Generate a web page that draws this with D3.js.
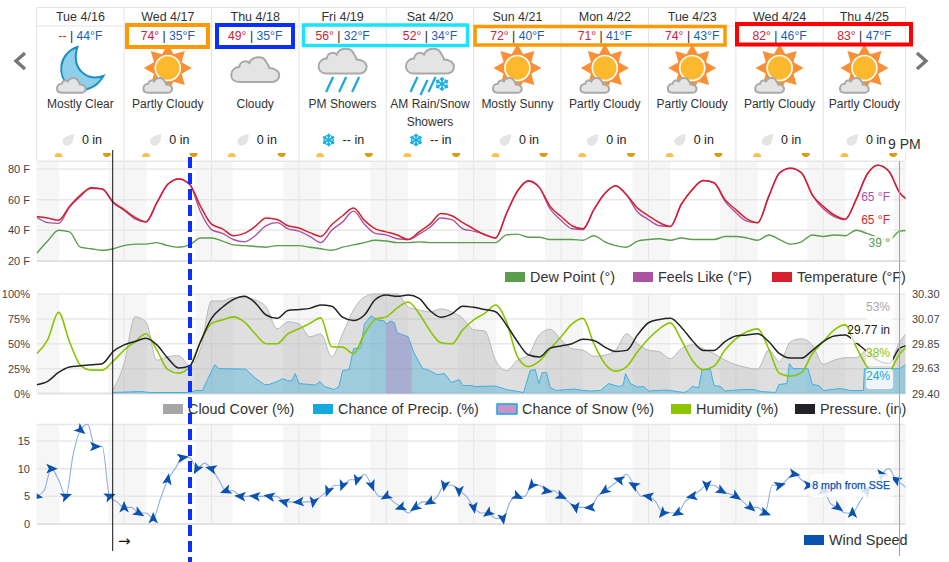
<!DOCTYPE html>
<html><head><meta charset="utf-8">
<script src="https://cdnjs.cloudflare.com/ajax/libs/d3/7.8.5/d3.min.js"></script>
<style>html,body{margin:0;padding:0;background:#fff}svg{display:block;font-family:"Liberation Sans",Arial,sans-serif}</style>
</head><body><svg id="c" width="949" height="562"></svg>
<script>
const days=["Tue 4/16","Wed 4/17","Thu 4/18","Fri 4/19","Sat 4/20","Sun 4/21","Mon 4/22","Tue 4/23","Wed 4/24","Thu 4/25"];
const highs=["--","74°","49°","56°","52°","72°","71°","74°","82°","83°"];
const lows=["44°F","35°F","35°F","32°F","34°F","40°F","41°F","43°F","46°F","47°F"];
const conditions=[["Mostly Clear"],["Partly Cloudy"],["Cloudy"],["PM Showers"],["AM Rain/Snow","Showers"],["Mostly Sunny"],["Partly Cloudy"],["Partly Cloudy"],["Partly Cloudy"],["Partly Cloudy"]];
const iconTypes=["moon","sun","cloud","rain","mix","sun","sun","sun","sun","sun"];
const precipAmounts=["0 in","0 in","0 in","-- in","-- in","0 in","0 in","0 in","0 in","0 in"];
const nightStart=[-5,19.7,43.5,67.7,91.6,115.6,139.6,163.6,187.6,211.6,235.6];
const nightEnd=[6.2,30.2,53.8,78,102,126.2,150,174,198,222,240];

const temperature=[49,48,46.5,55.6,63,67.5,67,58.5,
53.5,48.5,45.5,58,70,73.5,70,55.6,
44,41,36.5,38,42.5,48,47,43,
41.5,38.5,36,43.6,49.5,54.5,46.5,41,
39,37,34,39,44,51,49.5,45,
41,37,35,51,65.5,72,68,55.6,
49,43,41,53.5,64,69,63,54.5,
49.5,45,42.5,57,66.5,72.5,71,60,
53.5,47.5,45,62,77.5,80.5,77.5,63,
55.6,50,47.3,60,76.4,82.5,78.5,64.4,59];
const feelsLike=[48.5,45,44.5,55,62,68,67,58,
53,47.5,45.5,58,70,73.5,70,52,
40.5,38,34,32.5,36.5,43,45,41,
39.5,36,32,40,45.5,52.5,44,38,
37,34.5,34,37.5,42,48,47,41,
39.5,37.5,35,51,65.5,72.5,68,54,
46.5,41,40.5,53.5,64,69,63,52,
47,43,42.5,57,66.5,72.5,71,59,
51.5,46,45,62,77.5,80.5,77.5,63,
54,49,47,60,76.4,82.5,78.5,64.4,59];
const dewPoint=[25,33,40,39,29,28,27,28,
30,31,31,32,30,29,30.5,35,
35,33,30.5,30,29.5,29,30,30,
30,29,28,27,29,30.5,32,33.5,
33,32,32,32.5,32,32,32,32,
32,32,32,37,37.5,35.5,35.5,34,
34,34,33.5,36.5,32.5,30,29,33,
34,34.5,33.5,35,34,34,34,36,
36,35,33.5,37,34,31,32.5,37,
36,37,36.5,40,38,35.5,33.5,39.5,40];
const humidity=[40,54,81.5,52,28.5,23.5,23.5,32.5,
43.6,52,60,43.6,24,20.5,27,52,
70.5,74,77,72,60,50,50,60,
65,70.5,76,47,46.6,40,60,74.5,
77,86,92,80.5,63,51,50,64,
74,80.5,89,72,37,27,32.5,45,
57,70,75.5,50,30,22.5,27,42,
55,65,71,54,33.5,24,27.5,43.6,
55,62,65,45,20,17.5,21,40,
52,64,69,47,27,17,21,40,49];
const pressure=[29.48,29.51,29.59,29.64,29.65,29.66,29.67,29.78,
29.84,29.87,29.90,29.84,29.72,29.63,29.65,29.87,
30.08,30.18,30.25,30.28,30.22,30.11,30.08,30.15,
30.16,30.17,30.20,30.19,30.09,30.06,30.11,30.25,
30.29,30.28,30.29,30.26,30.15,30.09,30.12,30.19,
30.18,30.16,30.14,30.02,29.87,29.75,29.73,29.81,
29.83,29.85,29.89,29.88,29.82,29.78,29.79,29.93,
30.04,30.07,30.08,30.00,29.88,29.79,29.79,29.87,
29.92,29.93,29.94,29.87,29.76,29.72,29.72,29.79,
29.87,29.92,29.93,29.86,29.78,29.70,29.67,29.81,29.84];
const cloudCover=[null,null,null,null,null,null,null,4,
30,77,72,33.5,37,38,28.5,45,
93,93,96.6,96.6,94,87,65,72,
70,57,60,37,60,84,97,100,
100,100,87,84,82,85,82,75.5,
64,63,33.5,23,33.5,38.5,59,64.5,
54,45,43.6,37.5,38.5,43.6,60,50,
43.6,42,35,45,49,45,40,33.5,
29,26,24.5,43.6,32,52,55,48.6,
29.5,33.5,36,36,43.6,33.5,30,52,64];
const precipHours=[21,28.6,31,42,43.7,45.5,46.9,48.9,50,57.4,60.2,62.5,63.8,66.6,67.5,68.9,70,71,72,76.6,77.8,79,81.7,83,84,85.8,87,89,90,91.8,93.6,95.4,96,97.2,98.2,99,102,103.7,106,107.3,110,112,113.9,116,117,119,120.6,
126,129,133.7,135.5,136.9,137.9,138.8,140,141,142.7,147.5,150,152,154.8,157,159.8,161,161.7,163,165,166.7,168,173,177.7,179,180,181.8,182.7,185,186,187.8,188.9,194,196.9,198.8,202.9,203.8,206,206.7,207.7,211.8,213,214.8,216,220.7,223.5,227,227.3,237,239,240];
const precipChance=[1,2,1,1,3,3,14,29,25,24.5,15,9,9,13,15,13,12.5,20,10,8.5,12,7,4,7,23,24,45,46,70,78,74,73,70,73,71,61,57,40,25,24,19,20,11,14,8,8,7,
7.5,4,1,23,24,10,21,21,6,3,4.5,3,2.5,3,10,7,8,20,10,6.5,7,2.5,3.5,1,3,7,6,24,24,8,7,2.5,4,4,2,1,9,10,30,25,25,9,8,3,5,3,3,25,25,30,30];
const snowHours=[96,97.2,98.2,99,102,103];
const snowChance=[70,73,71,61,57,47];
const windSpeed=[5,6,10,8,5,12.5,17,18,14,14,
5,4,3,3,2,2,1,4.6,8,10,
12,12,10,11,10,8,6,6,5,5,
5,5,5,5,4,4,4,4,4,5,
6,7,7,8,8,9,7,5,5,4,
3,2,3,4,4,5,7,7,6,5,
3,2,2,1,1,4,5,5,7,7,
6,6,5,4,3,3,3,5,6,7,
8,9,7,5,5,4,2,2,2,4,
5,6,7,7,6,5.5,5,4,3,3,
2,7,7,8,9,8,7,6,6,3.7,
3,2,2,4,6,7.6,9,10,8,7,5.5];
const windArrowDir=[100,90,70,130,90,70,0,120,0,10,80,210,285,250,275,275,280,285,265,190,200,200,195,160,240,250,235,240,190,180,170,235,170,115,220,100,115,170,265,235,285,300,280,220,240,260,180,120,125,130,110,75,100,90,100,125,0,40,320,300];

const tempTicks=[20,40,60,80];
const pctTicks=[0,25,50,75,100];
const pressTicks=[29.40,29.63,29.85,30.07,30.30];
const windTicks=[0,5,10,15];
const legend1=[["Dew Point (°)","#5a9e4b"],["Feels Like (°F)","#ab52a3"],["Temperature (°F)","#d61f2c"]];
const legend2=[["Cloud Cover (%)","#a6a6a6"],["Chance of Precip. (%)","#16a9de"],["Chance of Snow (%)","#c893c6"],["Humidity (%)","#8bc400"],["Pressure. (in)","#222327"]];
const legend3=[["Wind Speed","#0a52b0"]];

const svg=d3.select("#c");
const hours3=d3.range(0,241,3), hours2=d3.range(0,241,2), hours4=d3.range(0,237,4);
const x=d3.scaleLinear().domain([0,240]).range([36.7,910.7]);
const LEFT=36.7,RIGHT=905.5;
const yT=d3.scaleLinear().domain([20,85]).range([261,161.3]);
const yP=d3.scaleLinear().domain([0,100]).range([393.5,294]);
const yIn=d3.scaleLinear().domain([29.40,30.30]).range([393.5,294]);
const yW=d3.scaleLinear().domain([0,18]).range([524,424.4]);

svg.append("defs").append("clipPath").attr("id","plot").append("rect")
  .attr("x",LEFT).attr("y",0).attr("width",RIGHT-LEFT).attr("height",562);

// header table
const dayIdx=d3.range(10);
const cx=i=>(x(i*24)+Math.min(x((i+1)*24),RIGHT))/2;
const head=svg.append("g");
head.append("line").attr("x1",LEFT).attr("x2",RIGHT).attr("y1",7.5).attr("y2",7.5).attr("stroke","#e4e4e4");
head.append("line").attr("x1",LEFT).attr("x2",RIGHT).attr("y1",26).attr("y2",26).attr("stroke","#e4e4e4");
head.selectAll(".v").data(d3.range(11)).join("line")
  .attr("x1",i=>Math.min(x(i*24),RIGHT)).attr("x2",i=>Math.min(x(i*24),RIGHT)).attr("y1",7.5).attr("y2",160).attr("stroke","#e4e4e4");
head.selectAll(".d").data(days).join("text").attr("x",(d,i)=>cx(i)).attr("y",21).attr("text-anchor","middle").attr("font-size",12.5).attr("fill","#333").text(d=>d);
const hl=head.selectAll(".hl").data(dayIdx).join("text").attr("x",i=>cx(i)).attr("y",40).attr("text-anchor","middle").attr("font-size",12.2);
hl.append("tspan").attr("fill","#cf2233").text(i=>highs[i]);
hl.append("tspan").attr("fill","#222").text(" | ");
hl.append("tspan").attr("fill","#1a5fb4").text(i=>lows[i]);
dayIdx.forEach(i=>conditions[i].forEach((t,k)=>{
  head.append("text").attr("x",cx(i)).attr("y",108+k*18).attr("text-anchor","middle").attr("font-size",12).attr("fill","#333").text(t);
}));

// icons
const cloudPath="M-16,13 C-22,13 -24,9 -24,6 C-24,1 -20,-2 -16,-2 C-15,-8 -9,-9 -6,-6 C-3,-13 8,-14 11,-7 C13,-4 14,-2 14,-1 C19,-1 24,2 24,6 C24,10 21,13 17,13 Z";
function cloud(g,cxv,cyv,s){
  g.append("path").attr("d",cloudPath).attr("transform",`translate(${cxv},${cyv}) scale(${s})`)
   .attr("fill","#e4e4e4").attr("stroke","#a9a9a9").attr("stroke-width",2/s);
}
function sunIcon(g,c){
  const star=d3.range(16).map(k=>{const a=k*Math.PI/8, r=k%2?15:24; return [c+r*Math.sin(a),68-r*Math.cos(a)];});
  g.append("path").attr("d",d3.line()(star)+"Z").attr("fill","#fa8f35");
  g.append("circle").attr("cx",c).attr("cy",68).attr("r",12.5).attr("fill","#fdb92e").attr("stroke","#fff").attr("stroke-width",1.6);
  cloud(g,c-10,85,0.6);
}
function streaks(g,list){
  g.selectAll(null).data(list).join("line").attr("x1",d=>d[0]+3.5).attr("x2",d=>d[0]-3.5).attr("y1",d=>d[1]).attr("y2",d=>d[1]+15)
   .attr("stroke","#1fa8dc").attr("stroke-width",2.3);
}
function flake(g,c,cy,r,w){
  [0,60,120].forEach(a=>{
    const f=g.append("g").attr("transform",`translate(${c},${cy}) rotate(${a})`).attr("stroke","#19aee0").attr("stroke-width",w).attr("fill","none");
    f.append("path").attr("d",`M0,${-r}V${r}M-2,${-r+1.5}L0,${-r+3.5}L2,${-r+1.5}M-2,${r-1.5}L0,${r-3.5}L2,${r-1.5}`);
  });
}
dayIdx.forEach(i=>{
  const c=cx(i), g=svg.append("g"), t=iconTypes[i];
  if(t==="sun") sunIcon(g,c);
  if(t==="cloud") cloud(g,c,69,1);
  if(t==="rain"){cloud(g,c,60.5,1);streaks(g,[[c-13,77],[c,77],[c+13,77]]);}
  if(t==="mix"){cloud(g,c,60.5,1);streaks(g,[[c-16,77],[c-6,80]]);streaks(g,[[c+2,77]]);flake(g,c+12,84,7,1.6);}
  if(t==="moon"){
    g.append("path").attr("d",`M${c-3},47 C${c-21},53 ${c-25},76 ${c-10},86 C${c+3},94 ${c+16},88 ${c+23},76 C${c+8},82 ${c-10},70 ${c-3},47 Z`)
      .attr("fill","#8ed0ea").attr("stroke","#1a8fc0").attr("stroke-width",2);
    cloud(g,c-9,85,0.6);
  }
  if(precipAmounts[i]==="0 in"){
    g.append("path").attr("d","M6,-6 C6,-6 6,2 3,4 C0,7 -4,6 -5,3 C-7,-2 0,-5 6,-6 Z").attr("transform",`translate(${c-12.5},140)`).attr("fill","#e4e4e4");
    g.append("text").attr("x",c+1.5).attr("y",144).attr("font-size",12.5).attr("fill","#222").text(precipAmounts[i]);
  } else {
    flake(g,c-14,140,6.5,1.5);
    g.append("text").attr("x",c).attr("y",144).attr("font-size",12.5).attr("fill","#222").text(precipAmounts[i]);
  }
});
// sun rise/set markers
const suns=svg.append("g").attr("clip-path","url(#plot)");
suns.selectAll(".r").data(nightEnd.slice(0,10)).join("path").attr("d",d3.arc()({innerRadius:0,outerRadius:4,startAngle:-Math.PI/2,endAngle:Math.PI/2}))
  .attr("transform",d=>`translate(${x(d)-0.7},157)`).attr("fill","#fbbf4d");
suns.selectAll(".s").data(nightStart.slice(1)).join("path").attr("d",d3.arc()({innerRadius:0,outerRadius:4,startAngle:Math.PI/2,endAngle:Math.PI*1.5}))
  .attr("transform",d=>`translate(${x(d)-1.5},153)`).attr("fill","#e09a12");

// panel backgrounds
function panel(yTop,yBot,gridVals,yS){
  const g=svg.append("g").attr("clip-path","url(#plot)");
  g.selectAll(".b").data(nightStart).join("rect").attr("x",d=>x(d)).attr("width",(d,i)=>x(nightEnd[i])-x(d))
   .attr("y",yTop).attr("height",yBot-yTop).attr("fill","#f6f6f6");
  g.selectAll(".vg").data(d3.range(1,10)).join("line").attr("x1",i=>x(i*24)).attr("x2",i=>x(i*24)).attr("y1",yTop).attr("y2",yBot).attr("stroke","#e6e6e6");
  g.selectAll(".hg").data(gridVals).join("line").attr("x1",LEFT).attr("x2",RIGHT).attr("y1",d=>yS(d)).attr("y2",d=>yS(d)).attr("stroke","#e8e8e8").attr("stroke-width",1.5);
  g.append("line").attr("x1",LEFT).attr("x2",RIGHT).attr("y1",yTop).attr("y2",yTop).attr("stroke","#e8e8e8").attr("stroke-width",1.5);
  g.append("line").attr("x1",LEFT).attr("x2",RIGHT).attr("y1",yBot).attr("y2",yBot).attr("stroke","#e2e2e2").attr("stroke-width",2);
  return g;
}
function axis(gen,scale,ticks,fmt,xpos){
  const a=svg.append("g").attr("transform",`translate(${xpos},0)`).call(gen(scale).tickValues(ticks).tickSize(0).tickFormat(fmt));
  a.select(".domain").remove();
  a.selectAll("text").attr("font-size",11).attr("fill","#444").style("font-family",'"Liberation Sans",Arial,sans-serif');
}
axis(d3.axisLeft,yT,tempTicks,d=>d+" F",33);
axis(d3.axisLeft,yP,pctTicks,d=>d+"%",33);
axis(d3.axisRight,yIn,pressTicks,d=>d3.format(".2f")(d),909);
axis(d3.axisLeft,yW,windTicks,d=>d,33);

const curve=d3.curveMonotoneX;
function lineOf(g,hrs,vals,y,color,w,cv){
  g.append("path").attr("d",d3.line().defined((d,i)=>vals[i]!==null).x((d,i)=>x(hrs[i])).y((d,i)=>y(vals[i])).curve(cv||curve)(hrs))
   .attr("fill","none").attr("stroke",color).attr("stroke-width",w);
}
function areaOf(g,hrs,vals,y,fill,op,stroke,cv){
  g.append("path").attr("d",d3.area().defined((d,i)=>vals[i]!==null).x((d,i)=>x(hrs[i])).y0(y(0)).y1((d,i)=>y(vals[i])).curve(cv||curve)(hrs))
   .attr("fill",fill).attr("fill-opacity",op);
  if(stroke) lineOf(g,hrs,vals,y,stroke,1,cv);
}
// temperature panel
const p1=panel(161.3,261,tempTicks.slice(1),yT);
lineOf(p1,hours3,dewPoint,yT,"#5a9e4b",1.4);
lineOf(p1,hours3,feelsLike,yT,"#ab52a3",1.4);
lineOf(p1,hours3,temperature,yT,"#d61f2c",1.5);
// precip panel
const p2=panel(294,393.5,pctTicks.slice(1,4),yP);
areaOf(p2,hours3,cloudCover,yP,"#a6a6a6",0.36,"#b8b8b8");
areaOf(p2,precipHours,precipChance,yP,"#1aa7dc",0.32,"#3fb0e0",d3.curveLinear);
areaOf(p2,snowHours,snowChance,yP,"#b98cc6",0.45,null,d3.curveLinear);
lineOf(p2,hours3,humidity,yP,"#8bc400",1.6);
lineOf(p2,hours3,pressure,yIn,"#222327",1.5);
// wind panel
const p3=panel(424.4,524,windTicks.slice(1),yW);
lineOf(p3,hours2,windSpeed,yW,"#8fb0de",1.1);
p3.selectAll(".ar").data(hours4).join("path").attr("d","M0,-6.5 L4.8,5 L0,2.4 L-4.8,5 Z").attr("fill","#0a52b0")
  .attr("transform",(h,i)=>`translate(${x(h)},${yW(windSpeed[h/2])}) rotate(${windArrowDir[i]})`);

// legends
function legend(items,xs,ySw){
  items.forEach((it,i)=>{
    const r=svg.append("rect").attr("x",xs[i]).attr("y",ySw).attr("width",20).attr("height",10).attr("fill",it[1]);
    if(it[0].startsWith("Chance of Snow")) r.attr("stroke","#16a9de").attr("stroke-width",1.5);
    svg.append("text").attr("x",xs[i]+25).attr("y",ySw+10).attr("font-size",14.4).attr("fill","#333").text(it[0]);
  });
}
legend(legend1,[505,633,772],272);
legend(legend2,[163,313,497,671,795],404);
legend(legend3,[804],535);

// value labels
const labels=[["65 °F",890,201,"#ab52a3",866,190],["65 °F",890,224,"#d61f2c",866,213],["39 °",890,247,"#5a9e4b",866,236],
 ["53%",890,311,"#a9a9a9",866,300],["29.77 in",890,334,"#222",851,323],["38%",890,357,"#8bc400",866,346],["24%",890,380,"#16a9de",866,369]];
const lab=svg.append("g");
lab.selectAll("rect").data(labels).join("rect").attr("x",d=>d[4]).attr("y",d=>d[5]).attr("width",d=>893-d[4]).attr("height",20).attr("rx",3).attr("fill","#fff").attr("fill-opacity",0.82);
lab.selectAll("text").data(labels).join("text").attr("x",d=>d[1]).attr("y",d=>d[2]).attr("text-anchor","end").attr("font-size",12).attr("fill",d=>d[3]).text(d=>d[0]);
lab.append("rect").attr("x",810).attr("y",474).attr("width",83).attr("height",23).attr("rx",3).attr("fill","#fff").attr("fill-opacity",0.82);
lab.append("text").attr("x",890).attr("y",489).attr("text-anchor","end").attr("font-size",10.6).attr("fill","#0a52b0").attr("stroke","#0a52b0").attr("stroke-width",0.25).text("8 mph from SSE");

// cursor lines
svg.append("line").attr("x1",112.7).attr("x2",112.7).attr("y1",150).attr("y2",551).attr("stroke","#111").attr("stroke-width",1);
svg.append("text").attr("x",118).attr("y",546).attr("font-size",15).attr("fill","#111").style("font-family",'"DejaVu Sans"').text("→");
svg.append("line").attr("x1",190).attr("x2",190).attr("y1",157).attr("y2",562).attr("stroke","#0a2fff").attr("stroke-width",4).attr("stroke-dasharray","11,5");
svg.append("line").attr("x1",899.5).attr("x2",899.5).attr("y1",161).attr("y2",556).attr("stroke","#ef8e3f").attr("stroke-width",1);
svg.append("rect").attr("x",886).attr("y",133).attr("width",34).attr("height",20).attr("fill","#fff").attr("fill-opacity",0.85);
svg.append("text").attr("x",888).attr("y",149).attr("font-size",14).attr("fill","#333").text("9 PM");

// annotation boxes
[[127,25,81,22,"#ff9900",4],[217,25,76,22,"#0a2fff",4],[303.5,25,164,20.5,"#19e3ff",3.5],[475,26.5,250,18.5,"#ff9900",3.5],[737,24,174,20.5,"#ff0000",4]].forEach(b=>{
  svg.append("rect").attr("x",b[0]).attr("y",b[1]).attr("width",b[2]).attr("height",b[3]).attr("fill","none").attr("stroke",b[4]).attr("stroke-width",b[5]);
});
// nav chevrons
["M25,53 L16,61 L25,69","M917,53 L926,61 L917,69"].forEach(d=>{
  svg.append("path").attr("d",d).attr("fill","none").attr("stroke","#777").attr("stroke-width",3.4);
});
</script></body></html>
